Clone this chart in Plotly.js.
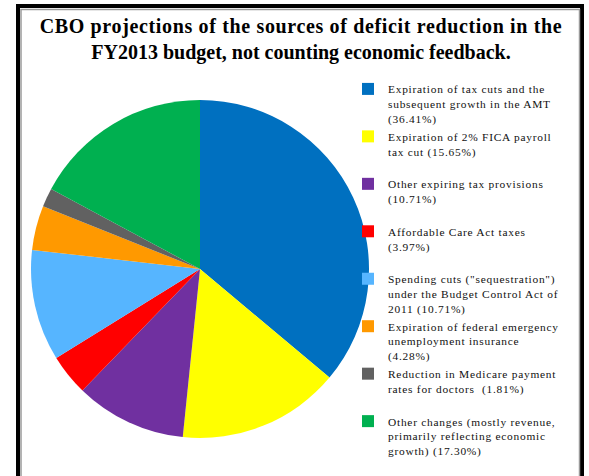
<!DOCTYPE html>
<html>
<head>
<meta charset="utf-8">
<script src="https://cdn.plot.ly/plotly-3.0.1.min.js"></script>
<style>html,body{margin:0;padding:0;background:#fff;}#chart{width:589px;height:476px;}</style>
</head>
<body>
<div id="chart"></div>
<script>
const categories = [
  "Expiration of tax cuts and the<br>subsequent growth in the AMT<br>(36.41%)",
  "Expiration of 2% FICA payroll<br>tax cut (15.65%)<br> ",
  "Other expiring tax provisions<br>(10.71%)<br> ",
  "Affordable Care Act taxes<br>(3.97%)<br> ",
  "Spending cuts (\"sequestration\")<br>under the Budget Control Act of<br>2011 (10.71%)",
  "Expiration of federal emergency<br>unemployment insurance<br>(4.28%)",
  "Reduction in Medicare payment<br>rates for doctors  (1.81%)<br> ",
  "Other changes (mostly revenue,<br>primarily reflecting economic<br>growth) (17.30%)"
];
const shares = [36.41, 15.65, 10.71, 3.97, 10.71, 4.28, 1.81, 17.30];
const sliceColors = ["#0070C0", "#FFFF00", "#7030A0", "#FF0000", "#56B5FF", "#FF9900", "#616161", "#00B050"];
const titleLines = ["CBO projections of the sources of deficit reduction in the", "FY2013 budget, not counting economic feedback."];

const W = 589, H = 476;
const px = x => x / W;
const py = y => 1 - y / H;
const spaced = (s, ls) => s.split("<br>").map(l => '<span style="letter-spacing:' + ls + 'px">' + l + '</span>').join("<br>");

const trace = {
  type: "pie",
  labels: categories.map(c => spaced(c, 0.75)),
  values: shares,
  sort: false,
  direction: "clockwise",
  rotation: 0,
  textinfo: "none",
  hoverinfo: "label+percent",
  marker: { colors: sliceColors, line: { width: 0 } },
  domain: { x: [px(31), px(369)], y: [py(438), py(100)] }
};

const layout = {
  width: W, height: H,
  margin: { l: 0, r: 0, t: 0, b: 0, autoexpand: false },
  paper_bgcolor: "#ffffff",
  plot_bgcolor: "#ffffff",
  font: { family: "Liberation Serif, DejaVu Serif, serif", color: "#000" },
  title: {
    text: "<b>" + spaced(titleLines[0], 0.65) + "<br>" + titleLines[1] + "</b>",
    font: { family: "Liberation Serif, DejaVu Serif, serif", size: 20, color: "#000" },
    x: px(301), xref: "paper", xanchor: "center",
    y: 1 - 32.5 / H, yref: "container", yanchor: "top"
  },
  showlegend: true,
  legend: {
    x: px(348), xanchor: "left",
    y: py(75), yanchor: "top",
    valign: "top",
    bgcolor: "rgba(0,0,0,0)",
    font: { family: "Liberation Serif, DejaVu Serif, serif", size: 11.4, color: "#111" },
    traceorder: "normal"
  },
  shapes: [
    { type: "rect", xref: "paper", yref: "paper", x0: px(18), x1: px(582), y0: -0.1, y1: py(6),
      line: { color: "#000", width: 4 }, fillcolor: "rgba(0,0,0,0)" },
    { type: "rect", xref: "paper", yref: "paper", x0: px(21), x1: px(579.5), y0: -0.1, y1: py(9.5),
      line: { color: "#9a9a9a", width: 1.5 }, fillcolor: "rgba(0,0,0,0)" }
  ]
};

Plotly.newPlot("chart", [trace], layout, { staticPlot: true, displayModeBar: false });
</script>
</body>
</html>
